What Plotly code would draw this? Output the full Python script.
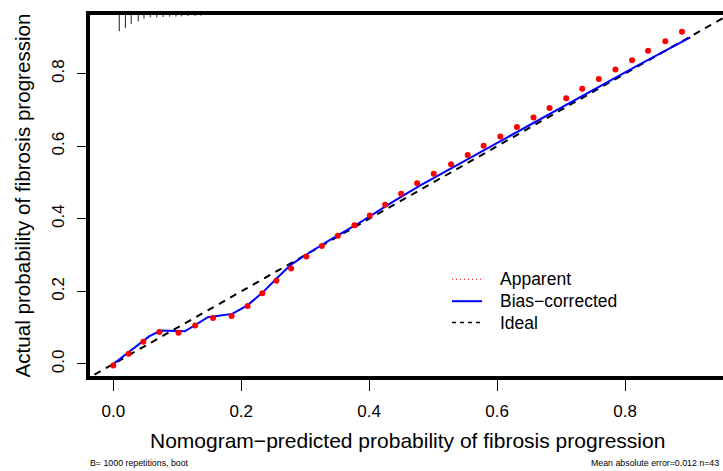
import plotly.graph_objects as go

# ---------------- data ----------------
apparent_x = [0.000, 0.024, 0.047, 0.072, 0.102, 0.128, 0.156, 0.185, 0.210, 0.233,
              0.255, 0.278, 0.302, 0.326, 0.351, 0.377, 0.401, 0.425, 0.450, 0.475,
              0.501, 0.528, 0.554, 0.579, 0.605, 0.631, 0.657, 0.682, 0.708, 0.733,
              0.759, 0.785, 0.811, 0.836, 0.863, 0.889]
apparent_y = [-0.004, 0.028, 0.061, 0.088, 0.086, 0.106, 0.127, 0.132, 0.160, 0.195,
              0.229, 0.263, 0.296, 0.325, 0.353, 0.382, 0.409, 0.439, 0.469, 0.498,
              0.524, 0.550, 0.576, 0.601, 0.627, 0.653, 0.679, 0.705, 0.732, 0.758,
              0.785, 0.811, 0.837, 0.863, 0.889, 0.915]

bias_x = [0.000, 0.056, 0.074, 0.112, 0.148, 0.186, 0.209, 0.233, 0.256, 0.278,
          0.303, 0.339, 0.386, 0.440, 0.480, 0.550, 0.620, 0.680, 0.750, 0.820, 0.902]
bias_y = [0.000, 0.076, 0.092, 0.090, 0.129, 0.138, 0.161, 0.196, 0.237, 0.274,
          0.303, 0.342, 0.390, 0.450, 0.492, 0.560, 0.628, 0.686, 0.755, 0.823, 0.900]

ideal_x = [-0.1, 1.1]
ideal_y = [-0.1, 1.1]

rug_x = [0.0094, 0.019, 0.028, 0.039, 0.048, 0.058, 0.068, 0.078, 0.088, 0.098,
         0.107, 0.117, 0.128, 0.137]
rug_freq = [1.0, 0.82, 0.60, 0.45, 0.31, 0.235, 0.235, 0.22, 0.20, 0.19,
            0.18, 0.165, 0.165, 0.15]

tick_vals = [0.0, 0.2, 0.4, 0.6, 0.8]
tick_text = ["0.0", "0.2", "0.4", "0.6", "0.8"]

legend_names = ["Apparent", "Bias\u2212corrected", "Ideal"]

x_title = "Nomogram\u2212predicted probability of fibrosis progression"
y_title = "Actual probability of fibrosis progression"
sub_left = "B= 1000 repetitions, boot"
sub_right = "Mean absolute error=0.012 n=43"

# ---------------- layout geometry ----------------
W, H = 723, 471
L, T, B = 88, 13.3, 378.3
X_RANGE = [-0.0395, (W - 113.0) / 640.0]
Y_RANGE = [-0.0386, 0.967]
FONT = "Liberation Sans, Arial, Helvetica, sans-serif"


def px(xp):
    return (xp - L) / (W - L)


def py(yp):
    return (B - yp) / (B - T)


fig = go.Figure()

# ideal
fig.add_trace(go.Scatter(x=ideal_x, y=ideal_y, mode="lines",
                         line=dict(color="black", width=2, dash="7px,6px"),
                         showlegend=False, hoverinfo="skip"))
# bias corrected
fig.add_trace(go.Scatter(x=bias_x, y=bias_y, mode="lines",
                         line=dict(color="#0000FF", width=2),
                         showlegend=False))
# apparent (dotted, drawn as dots)
fig.add_trace(go.Scatter(x=apparent_x, y=apparent_y, mode="markers",
                         marker=dict(color="#FF0000", size=6, line=dict(width=0)),
                         showlegend=False))

# rug at top
top = Y_RANGE[1]
rug_scale = 0.0504
rx, ry = [], []
for xv, f in zip(rug_x, rug_freq):
    rx += [xv, xv, None]
    ry += [top, top - f * rug_scale, None]
fig.add_trace(go.Scatter(x=rx, y=ry, mode="lines",
                         line=dict(color="#222222", width=1),
                         showlegend=False, hoverinfo="skip"))

shapes = []
# box (left, top, bottom; right side beyond the window)
shapes.append(dict(type="path", xref="paper", yref="paper",
                   path="M 1.2,0 L 0,0 L 0,1 L 1.2,1",
                   line=dict(color="black", width=4), layer="above"))

# manual legend
leg_rows = [279.5, 301.5, 322.8]
leg_styles = [dict(color="#FF0000", width=1, dash="1px,3px"),
              dict(color="#0000FF", width=2),
              dict(color="black", width=1.5, dash="4px,4px")]
annotations = []
for name, yr, st in zip(legend_names, leg_rows, leg_styles):
    shapes.append(dict(type="line", xref="paper", yref="paper",
                       x0=px(452), x1=px(482), y0=py(yr), y1=py(yr), line=st))
    annotations.append(dict(text=name, xref="paper", yref="paper",
                            x=px(498), y=py(yr), xanchor="left", yanchor="middle",
                            showarrow=False, font=dict(size=17.5, family=FONT, color="black")))

# titles
annotations.append(dict(text=x_title, xref="paper", yref="paper",
                        x=px(407.5), y=py(441), xanchor="center", yanchor="middle",
                        showarrow=False, font=dict(size=21, family=FONT, color="black")))
annotations.append(dict(text=y_title, xref="paper", yref="paper",
                        x=px(22), y=py(195.8), xanchor="center", yanchor="middle",
                        textangle=-90,
                        showarrow=False, font=dict(size=20.6, family=FONT, color="black")))
annotations.append(dict(text=sub_left, xref="paper", yref="paper",
                        x=px(88), y=py(463), xanchor="left", yanchor="middle",
                        showarrow=False, font=dict(size=8.8, family=FONT, color="black")))
annotations.append(dict(text=sub_right, xref="paper", yref="paper",
                        x=px(721), y=py(463), xanchor="right", yanchor="middle",
                        showarrow=False, font=dict(size=8.8, family=FONT, color="black")))

fig.update_layout(
    width=W, height=H,
    margin=dict(l=L, r=0, t=T, b=H - B, pad=0),
    paper_bgcolor="white", plot_bgcolor="white",
    showlegend=False,
    shapes=shapes, annotations=annotations,
    font=dict(family=FONT, color="black"),
    xaxis=dict(range=X_RANGE, tickvals=tick_vals, ticktext=tick_text,
               showgrid=False, zeroline=False, showline=False, automargin=False,
               ticks="outside", ticklen=12, tickwidth=1, tickcolor="black",
               tickfont=dict(size=17, family=FONT, color="black"),
               ticklabelstandoff=6),
    yaxis=dict(range=Y_RANGE, tickvals=tick_vals, ticktext=tick_text,
               showgrid=False, zeroline=False, showline=False, automargin=False,
               ticks="outside", ticklen=10, tickwidth=1, tickcolor="black",
               tickangle=-90,
               tickfont=dict(size=17, family=FONT, color="black"),
               ticklabelstandoff=6),
)

fig.write_html("out.html",
               config={"displayModeBar": False},
               post_script="document.body.style.margin='0px';document.body.style.padding='0px';")
